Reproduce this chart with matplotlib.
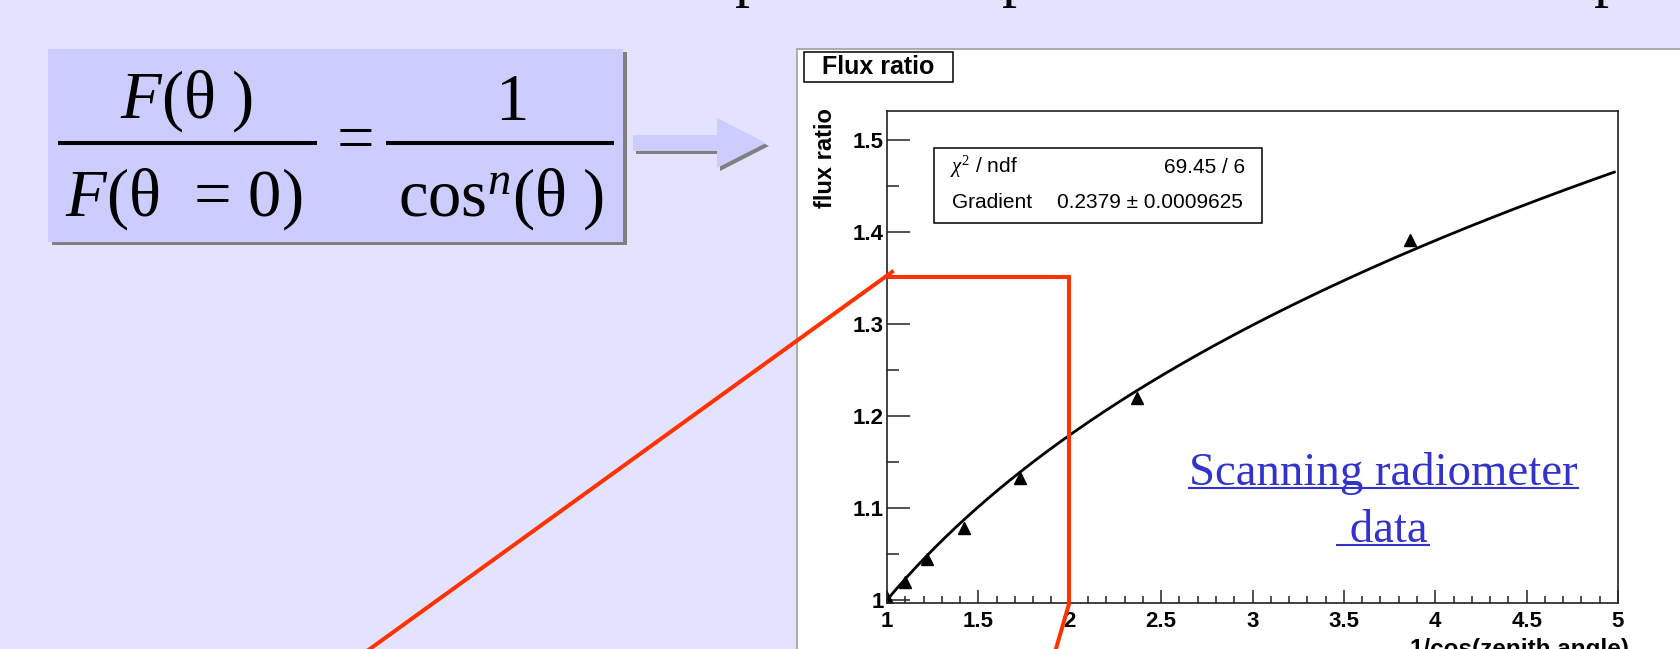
import numpy as np
import matplotlib
matplotlib.use('Agg')
import matplotlib.pyplot as plt
from matplotlib.patches import Rectangle, Polygon
from matplotlib.lines import Line2D
from matplotlib.ticker import MultipleLocator, FormatStrFormatter

W, H = 1680, 649

inv_cos = [1.0, 1.10, 1.22, 1.42, 1.73, 2.37, 3.86]
flux_ratio = [1.002, 1.020, 1.045, 1.078, 1.133, 1.220, 1.391]

# fit result shown in the stats box
gradient = 0.2379
gradient_err = 0.0009625
chi2 = 69.45
ndf = 6

x_ticks = [1, 1.5, 2, 2.5, 3, 3.5, 4, 4.5, 5]
y_ticks = [1, 1.1, 1.2, 1.3, 1.4, 1.5]

plt.rcParams['font.family'] = ['Liberation Sans', 'DejaVu Sans']
plt.rcParams['mathtext.fontset'] = 'custom'
plt.rcParams['mathtext.rm'] = 'Liberation Serif'
plt.rcParams['mathtext.it'] = 'Liberation Serif:italic'

BG = '#E3E3FF'
LILAC = '#CCCCFF'
SHADOW = '#808080'
RED = '#FF3300'
LINK = '#3333CC'


def fx(px):
    return px / W


def fy(py):
    return 1 - py / H


def rect(x0, y0, x1, y1, **kw):
    return Rectangle((fx(x0), fy(y1)), (x1 - x0) / W, (y1 - y0) / H,
                     transform=fig.transFigure, **kw)


def pline(xs, ys, **kw):
    return Line2D([fx(v) for v in xs], [fy(v) for v in ys],
                  transform=fig.transFigure, **kw)


fig = plt.figure(figsize=(W / 100, H / 100), dpi=100, facecolor=BG)

# cut-off slide title (only descenders visible)
for px in [735, 1002, 1594]:
    fig.text(fx(px), fy(-5), 'p', family='Liberation Serif', size=43,
             va='baseline', ha='left', color='black')

# formula box
fig.add_artist(rect(52, 52, 627, 245, facecolor=SHADOW, edgecolor='none', zorder=1))
fig.add_artist(rect(48, 49, 623, 242, facecolor=LILAC, edgecolor='none', zorder=1.1))
serif = dict(family='Liberation Serif', size=48, color='black', zorder=3)
fig.text(fx(187), fy(118), '$F$(θ )', ha='center', va='baseline', **serif)
fig.text(fx(184), fy(216), '$F$(θ  = 0)', ha='center', va='baseline', **serif)
fig.text(fx(355), fy(143), '=', ha='center', va='center', **serif)
fig.text(fx(512), fy(120), '1', ha='center', va='baseline', **serif)
fig.text(fx(501), fy(216), r'$\mathrm{cos}^{n}$(θ )', ha='center', va='baseline', **serif)
fig.add_artist(pline([60, 315], [143, 143], color='black', lw=2.9, zorder=3))
fig.add_artist(pline([388, 612], [143, 143], color='black', lw=2.9, zorder=3))

# block arrow
arrow = [(633, 135), (717, 135), (717, 118), (766, 143), (717, 168), (717, 151), (633, 151)]
fig.add_artist(Polygon([(fx(x + 3), fy(y + 3)) for x, y in arrow], closed=True,
                       transform=fig.transFigure, facecolor=SHADOW, edgecolor='none', zorder=1))
fig.add_artist(Polygon([(fx(x), fy(y)) for x, y in arrow], closed=True,
                       transform=fig.transFigure, facecolor=LILAC, edgecolor='none', zorder=1.1))

# ROOT canvas panel
fig.add_artist(rect(797, 49, 1700, 680, facecolor='white', edgecolor='#a0a0a0',
                    lw=1.2, zorder=-1))

ax = fig.add_axes([fx(887), fy(603), (1618 - 887) / W, (603 - 111) / H])
ax.set_facecolor('white')
xf = np.linspace(1, 4.98, 300)
ax.plot(xf, xf ** gradient, color='black', lw=2.0)
ax.plot(inv_cos, flux_ratio, ls='none', marker='^', color='black', ms=8)

ax.set_xlim(1, 5)
ax.set_ylim(0.9967, 1.5315)
ax.set_xticks(x_ticks)
ax.set_yticks(y_ticks)
ax.xaxis.set_minor_locator(MultipleLocator(0.1))
ax.yaxis.set_minor_locator(MultipleLocator(0.05))
ax.xaxis.set_major_formatter(FormatStrFormatter('%g'))
ax.yaxis.set_major_formatter(FormatStrFormatter('%g'))
ax.tick_params(axis='x', which='major', direction='in', length=9.4, width=1.1,
               pad=6, labelsize=16, color='#222222')
ax.tick_params(axis='x', which='minor', direction='in', length=4.7, width=1.1, color='#222222')
ax.tick_params(axis='y', which='major', direction='in', length=16.5, width=1.1,
               pad=2.5, labelsize=16, color='#222222')
ax.tick_params(axis='y', which='minor', direction='in', length=8.6, width=1.1, color='#222222')
for lbl in ax.get_xticklabels() + ax.get_yticklabels():
    lbl.set_fontweight('bold')
for s in ax.spines.values():
    s.set_color('#222222')
    s.set_linewidth(1.2)

fig.text(fx(825), fy(108), 'flux ratio', rotation=90, ha='center', va='top',
         fontsize=17, fontweight='bold')
fig.text(fx(1629), fy(638), '1/cos(zenith angle)', ha='right', va='top',
         fontsize=17.5, fontweight='bold')

# title box
fig.add_artist(rect(804, 52, 953, 82, facecolor='white', edgecolor='black', lw=1.1, zorder=2))
fig.text(fx(878), fy(67), 'Flux ratio', ha='center', va='center', fontsize=18,
         fontweight='bold', zorder=4)

# stats box
fig.add_artist(rect(934, 148, 1262, 223, facecolor='white', edgecolor='black', lw=1.1, zorder=2))
fig.text(fx(950), fy(167), r'$\chi^{2}$ / ndf', ha='left', va='center', fontsize=15, zorder=4)
fig.text(fx(1245), fy(167), f'{chi2:g} / {ndf}', ha='right', va='center', fontsize=15, zorder=4)
fig.text(fx(952), fy(203), 'Gradient', ha='left', va='center', fontsize=15, zorder=4)
fig.text(fx(1243), fy(203), f'{gradient:.4f} ± {gradient_err:.7f}',
         ha='right', va='center', fontsize=15, zorder=4)

# hyperlink text
fig.text(fx(1383), fy(485), 'Scanning radiometer', ha='center', va='baseline',
         family='Liberation Serif', fontsize=33.7, color=LINK, zorder=4)
fig.text(fx(1383), fy(542), ' data', ha='center', va='baseline',
         family='Liberation Serif', fontsize=33.7, color=LINK, zorder=4)
fig.add_artist(pline([1189, 1578], [488, 488], color=LINK, lw=1.5, zorder=4))
fig.add_artist(pline([1337, 1429], [545, 545], color=LINK, lw=1.5, zorder=4))

# red zoom marker lines
fig.add_artist(pline([356, 892], [659, 272], color=RED, lw=2.9, zorder=5))
fig.add_artist(pline([889, 1069, 1069, 1053], [277, 277, 604, 659], color=RED, lw=2.9,
                     solid_joinstyle='miter', zorder=5))

fig.savefig('out.png', dpi=100, facecolor=BG)
